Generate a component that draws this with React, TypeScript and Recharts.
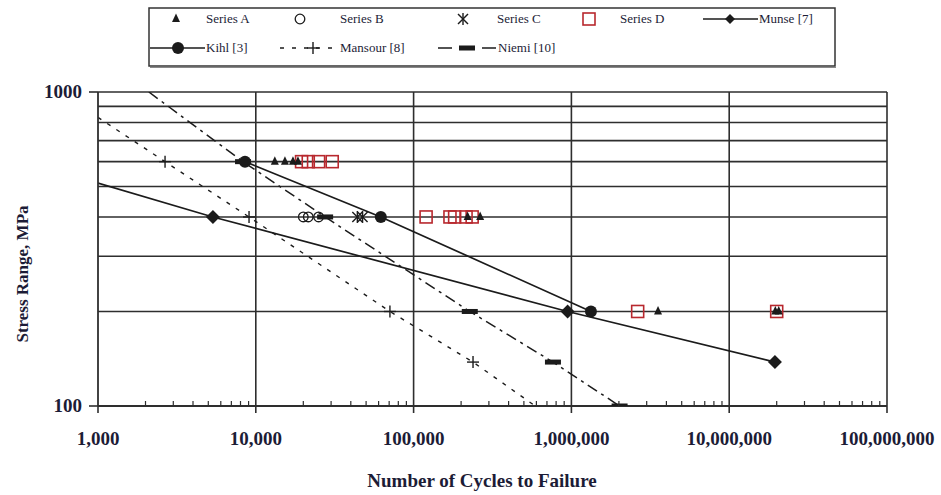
import { ComposedChart, Line, Scatter, XAxis, YAxis, ReferenceLine } from "recharts";

type Pt = { n: number; s: number };

// test results (cycles to failure, stress range in MPa)
const seriesA: Pt[] = [
  { n: 13200, s: 600 },
  { n: 15300, s: 600 },
  { n: 17200, s: 600 },
  { n: 18500, s: 600 },
  { n: 220000, s: 400 },
  { n: 264000, s: 400 },
  { n: 3540000, s: 200 },
  { n: 19600000, s: 200 },
  { n: 20600000, s: 200 },
];
const seriesB: Pt[] = [
  { n: 20000, s: 400 },
  { n: 21500, s: 400 },
  { n: 25000, s: 400 },
];
const seriesC: Pt[] = [
  { n: 44000, s: 400 },
  { n: 47500, s: 400 },
];
const seriesD: Pt[] = [
  { n: 19500, s: 600 },
  { n: 21500, s: 600 },
  { n: 25000, s: 600 },
  { n: 30500, s: 600 },
  { n: 120000, s: 400 },
  { n: 170000, s: 400 },
  { n: 182000, s: 400 },
  { n: 215000, s: 400 },
  { n: 235000, s: 400 },
  { n: 2630000, s: 200 },
  { n: 20000000, s: 200 },
];

// design curves from the literature
const munseLine: Pt[] = [
  { n: 1000, s: 513 },
  { n: 5350, s: 400 },
  { n: 946000, s: 200 },
  { n: 19500000, s: 138 },
];
const munseMarks: Pt[] = munseLine.slice(1);

const kihlLine: Pt[] = [
  { n: 8540, s: 600 },
  { n: 62000, s: 400 },
  { n: 1330000, s: 200 },
];

const mansourLine: Pt[] = [
  { n: 1000, s: 830 },
  { n: 2660, s: 600 },
  { n: 9060, s: 400 },
  { n: 70800, s: 200 },
  { n: 238000, s: 138 },
  { n: 590000, s: 100 },
];
const mansourMarks: Pt[] = mansourLine.slice(1, 5);

const niemiLine: Pt[] = [
  { n: 2100, s: 1000 },
  { n: 8300, s: 600 },
  { n: 27500, s: 400 },
  { n: 227000, s: 200 },
  { n: 764000, s: 138 },
  { n: 2020000, s: 100 },
];
const niemiMarks: Pt[] = niemiLine.slice(1);

const xDecades = [1000, 10000, 100000, 1000000, 10000000, 100000000];
const xLabels = ["1,000", "10,000", "100,000", "1,000,000", "10,000,000", "100,000,000"];
const xTicks = xDecades.concat(
  xDecades.slice(0, 5).flatMap((d) => [2, 3, 4, 5, 6, 7, 8, 9].map((k) => k * d))
);
const yTicks = [100, 1000];
const yGrid = [200, 300, 400, 500, 600, 700, 800, 900, 1000];

const INK = "#1b1b1b";
const GRID = "#2e2e2e";
const LABEL = "#1c1c36";
const RED = "#b8282e";
const FONT = "'Liberation Serif', 'Times New Roman', serif";

const Triangle = ({ cx, cy }: any) => (
  <path d={`M${cx},${cy - 5.5} L${cx + 4},${cy + 3} L${cx - 4},${cy + 3} Z`} fill={INK} />
);
const OpenCircle = ({ cx, cy }: any) => (
  <circle cx={cx} cy={cy} r={4.8} fill="none" stroke={INK} strokeWidth={1.3} />
);
const Star = ({ cx, cy }: any) => (
  <g stroke={INK} strokeWidth={1.4}>
    <line x1={cx} y1={cy - 6} x2={cx} y2={cy + 6} />
    <line x1={cx - 5} y1={cy - 5} x2={cx + 5} y2={cy + 5} />
    <line x1={cx + 5} y1={cy - 5} x2={cx - 5} y2={cy + 5} />
  </g>
);
const RedSquare = ({ cx, cy }: any) => (
  <rect x={cx - 6} y={cy - 6} width={12} height={12} fill="none" stroke={RED} strokeWidth={1.6} />
);
const Diamond = ({ cx, cy }: any) => (
  <path d={`M${cx},${cy - 7} L${cx + 7},${cy} L${cx},${cy + 7} L${cx - 7},${cy} Z`} fill={INK} />
);
const SmallDiamond = ({ cx, cy }: any) => (
  <path d={`M${cx},${cy - 5} L${cx + 5},${cy} L${cx},${cy + 5} L${cx - 5},${cy} Z`} fill={INK} />
);
const Dot = ({ cx, cy }: any) => <circle cx={cx} cy={cy} r={6} fill={INK} />;
const Plus = ({ cx, cy }: any) => (
  <g stroke={INK} strokeWidth={1.4}>
    <line x1={cx - 6} y1={cy} x2={cx + 6} y2={cy} />
    <line x1={cx} y1={cy - 6} x2={cx} y2={cy + 6} />
  </g>
);
const Bar = ({ cx, cy }: any) => <rect x={cx - 8} y={cy - 2.5} width={16} height={5} fill={INK} />;

function CyclesTick({ x, y, payload }: any) {
  const i = xDecades.indexOf(payload.value);
  if (i < 0) {
    return <line x1={x} x2={x} y1={y - 5} y2={y} stroke={GRID} strokeWidth={1.2} />;
  }
  return (
    <g>
      <line x1={x} x2={x} y1={y} y2={y + 7} stroke={GRID} strokeWidth={1.6} />
      <text x={x} y={y + 39} textAnchor="middle" fontFamily={FONT} fontWeight="bold" fontSize={19} fill={LABEL}>
        {xLabels[i]}
      </text>
    </g>
  );
}

function StressTick({ x, y, payload }: any) {
  return (
    <g>
      <line x1={x - 9} x2={x} y1={y} y2={y} stroke={GRID} strokeWidth={1.6} />
      <text x={x - 16} y={y + 6} textAnchor="end" fontFamily={FONT} fontWeight="bold" fontSize={19} fill={LABEL}>
        {payload.value}
      </text>
    </g>
  );
}

function LegendBox() {
  const t = { fontFamily: FONT, fontSize: 13, fill: LABEL } as const;
  const r1 = 19;
  const r2 = 48;
  return (
    <svg width={941} height={72} style={{ position: "absolute", left: 0, top: 0 }}>
      <rect x={149} y={8} width={686} height={58} fill="#fff" stroke="#333" strokeWidth={1.5} />
      <line x1={150} y1={67.5} x2={836} y2={67.5} stroke="#888" strokeWidth={1} />

      <Triangle cx={176} cy={r1} />
      <text x={206} y={r1 + 4} {...t}>Series A</text>
      <OpenCircle cx={300} cy={r1} />
      <text x={340} y={r1 + 4} {...t}>Series B</text>
      <Star cx={463} cy={r1} />
      <text x={497} y={r1 + 4} {...t}>Series C</text>
      <RedSquare cx={589} cy={r1} />
      <text x={620} y={r1 + 4} {...t}>Series D</text>
      <line x1={703} x2={758} y1={r1} y2={r1} stroke={INK} strokeWidth={1.6} />
      <SmallDiamond cx={730} cy={r1} />
      <text x={759} y={r1 + 4} {...t}>Munse [7]</text>

      <line x1={150} x2={205} y1={r2} y2={r2} stroke={INK} strokeWidth={1.6} />
      <Dot cx={178} cy={r2} />
      <text x={206} y={r2 + 4} {...t}>Kihl [3]</text>
      <line x1={280} x2={340} y1={r2} y2={r2} stroke={INK} strokeWidth={1.3} strokeDasharray="4 8" />
      <Plus cx={313} cy={r2} />
      <text x={340} y={r2 + 4} {...t}>Mansour [8]</text>
      <line x1={438} x2={498} y1={r2} y2={r2} stroke={INK} strokeWidth={1.6} strokeDasharray="14 8" />
      <Bar cx={467} cy={r2} />
      <text x={498} y={r2 + 4} {...t}>Niemi [10]</text>
    </svg>
  );
}

export default function App() {
  return (
    <div style={{ position: "absolute", left: 0, top: 0, width: 941, height: 495, background: "#fff" }}>
      <ComposedChart
        width={941}
        height={495}
        margin={{ top: 92, right: 54, bottom: 29, left: 8 }}
        style={{ position: "absolute", left: 0, top: 0 }}
      >
        <XAxis
          dataKey="n"
          type="number"
          scale="log"
          domain={[1000, 100000000]}
          ticks={xTicks}
          interval={0}
          height={60}
          tickSize={0}
          tickMargin={0}
          tickLine={false}
          tick={<CyclesTick />}
          axisLine={{ stroke: GRID, strokeWidth: 1.8 }}
          allowDataOverflow
        />
        <YAxis
          dataKey="s"
          type="number"
          scale="log"
          domain={[100, 1000]}
          ticks={yTicks}
          interval={0}
          width={90}
          tickSize={0}
          tickMargin={0}
          tickLine={false}
          tick={<StressTick />}
          axisLine={{ stroke: GRID, strokeWidth: 1.8 }}
          allowDataOverflow
        />
        {yGrid.map((v) => (
          <ReferenceLine key={`gy-${v}`} y={v} stroke={GRID} strokeWidth={1.6} />
        ))}
        {xDecades.slice(1).map((v) => (
          <ReferenceLine key={`gx-${v}`} x={v} stroke={GRID} strokeWidth={1.6} />
        ))}

        <Line data={munseLine} dataKey="s" stroke={INK} strokeWidth={1.7} dot={false} isAnimationActive={false} />
        <Line data={kihlLine} dataKey="s" stroke={INK} strokeWidth={1.7} dot={false} isAnimationActive={false} />
        <Line
          data={mansourLine}
          dataKey="s"
          stroke={INK}
          strokeWidth={1.4}
          strokeDasharray="4 7"
          dot={false}
          isAnimationActive={false}
        />
        <Line
          data={niemiLine}
          dataKey="s"
          stroke={INK}
          strokeWidth={1.5}
          strokeDasharray="11 5 3 5"
          dot={false}
          isAnimationActive={false}
        />

        <Scatter data={munseMarks} shape={<Diamond />} isAnimationActive={false} />
        <Scatter data={kihlLine} shape={<Dot />} isAnimationActive={false} />
        <Scatter data={mansourMarks} shape={<Plus />} isAnimationActive={false} />
        <Scatter data={niemiMarks} shape={<Bar />} isAnimationActive={false} />
        <Scatter data={seriesB} shape={<OpenCircle />} isAnimationActive={false} />
        <Scatter data={seriesC} shape={<Star />} isAnimationActive={false} />
        <Scatter data={seriesD} shape={<RedSquare />} isAnimationActive={false} />
        <Scatter data={seriesA} shape={<Triangle />} isAnimationActive={false} />

        <text x={482} y={487} textAnchor="middle" fontFamily={FONT} fontWeight="bold" fontSize={19} fill={LABEL}>
          Number of Cycles to Failure
        </text>
        <text
          x={28}
          y={274}
          transform="rotate(-90 28 274)"
          textAnchor="middle"
          fontFamily={FONT}
          fontWeight="bold"
          fontSize={17}
          fill={LABEL}
        >
          Stress Range, MPa
        </text>
      </ComposedChart>
      <LegendBox />
    </div>
  );
}
